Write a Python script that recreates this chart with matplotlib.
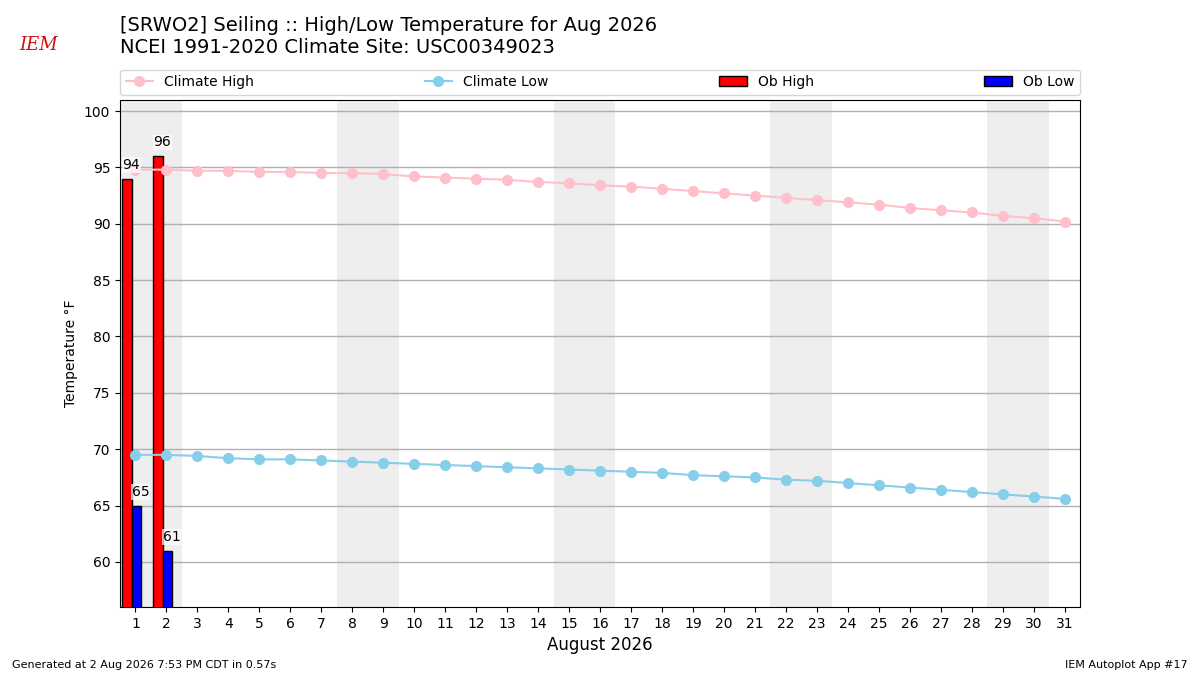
import numpy as np
import matplotlib.pyplot as plt
from matplotlib.patches import Patch
from matplotlib.lines import Line2D

# August 2026 daily values
days = list(range(1, 32))
climate_high = [94.8, 94.8, 94.7, 94.7, 94.6, 94.6, 94.5, 94.5, 94.4, 94.2,
                94.1, 94.0, 93.9, 93.7, 93.6, 93.4, 93.3, 93.1, 92.9, 92.7,
                92.5, 92.3, 92.1, 91.9, 91.7, 91.4, 91.2, 91.0, 90.7, 90.5,
                90.2]
climate_low = [69.5, 69.5, 69.4, 69.2, 69.1, 69.1, 69.0, 68.9, 68.8, 68.7,
               68.6, 68.5, 68.4, 68.3, 68.2, 68.1, 68.0, 67.9, 67.7, 67.6,
               67.5, 67.3, 67.2, 67.0, 66.8, 66.6, 66.4, 66.2, 66.0, 65.8,
               65.6]
ob_days = [1, 2]
ob_high = [94, 96]
ob_low = [65, 61]
weekend_starts = [1, 8, 15, 22, 29]

fig = plt.figure(figsize=(12, 6.75), dpi=100)
ax = fig.add_axes([0.1, 0.1007, 0.8, 0.7515])

for d in weekend_starts:
    ax.axvspan(d - 0.5, d + 1.5, color="#eeeeee", zorder=0, lw=0)

obd = np.array(ob_days)
bars_h = ax.bar(obd - 0.27, ob_high, width=0.3, fc="r", ec="k", zorder=3)
bars_l = ax.bar(obd + 0.03, ob_low, width=0.3, fc="b", ec="k", zorder=3)
for b, v in zip(list(bars_h) + list(bars_l), ob_high + ob_low):
    ax.text(b.get_x() + b.get_width() / 2 + 0.13, v + 0.6, f"{v}",
            ha="center", va="bottom", fontsize=10, zorder=5,
            bbox=dict(fc="white", ec="none", alpha=0.7, pad=0.5))

ax.plot(days, climate_high, color="pink", marker="o", ms=7, lw=1.5, zorder=4)
ax.plot(days, climate_low, color="skyblue", marker="o", ms=7, lw=1.5, zorder=4)

ax.set_xlim(0.5, 31.5)
ax.set_ylim(56, 101)
ax.set_xticks(days)
ax.set_yticks(range(60, 101, 5))
ax.yaxis.grid(True, color="#b0b0b0", lw=1)
ax.set_axisbelow(True)
ax.set_xlabel("August 2026", fontsize=12)
ax.set_ylabel("Temperature °F")

handles = [
    Line2D([], [], color="pink", marker="o", ms=7, lw=1.5),
    Line2D([], [], color="skyblue", marker="o", ms=7, lw=1.5),
    Patch(fc="r", ec="k"),
    Patch(fc="b", ec="k"),
]
ax.legend(handles, ["Climate High", "Climate Low", "Ob High", "Ob Low"],
          ncol=4, loc="lower left", bbox_to_anchor=(0, 1.01, 1, 0.05),
          mode="expand", borderaxespad=0, fontsize=10)

fig.text(0.1, 0.976, "[SRWO2] Seiling :: High/Low Temperature for Aug 2026\n"
         "NCEI 1991-2020 Climate Site: USC00349023",
         ha="left", va="top", fontsize=14)
fig.text(0.032, 0.933, "IEM", color="#d01010", fontsize=13,
         family="DejaVu Serif", style="italic", ha="center", va="center")
fig.text(0.01, 0.007, "Generated at 2 Aug 2026 7:53 PM CDT in 0.57s",
         ha="left", va="bottom", fontsize=8)
fig.text(0.99, 0.007, "IEM Autoplot App #17", ha="right", va="bottom",
         fontsize=8)

fig.savefig("out.png", dpi=100)
